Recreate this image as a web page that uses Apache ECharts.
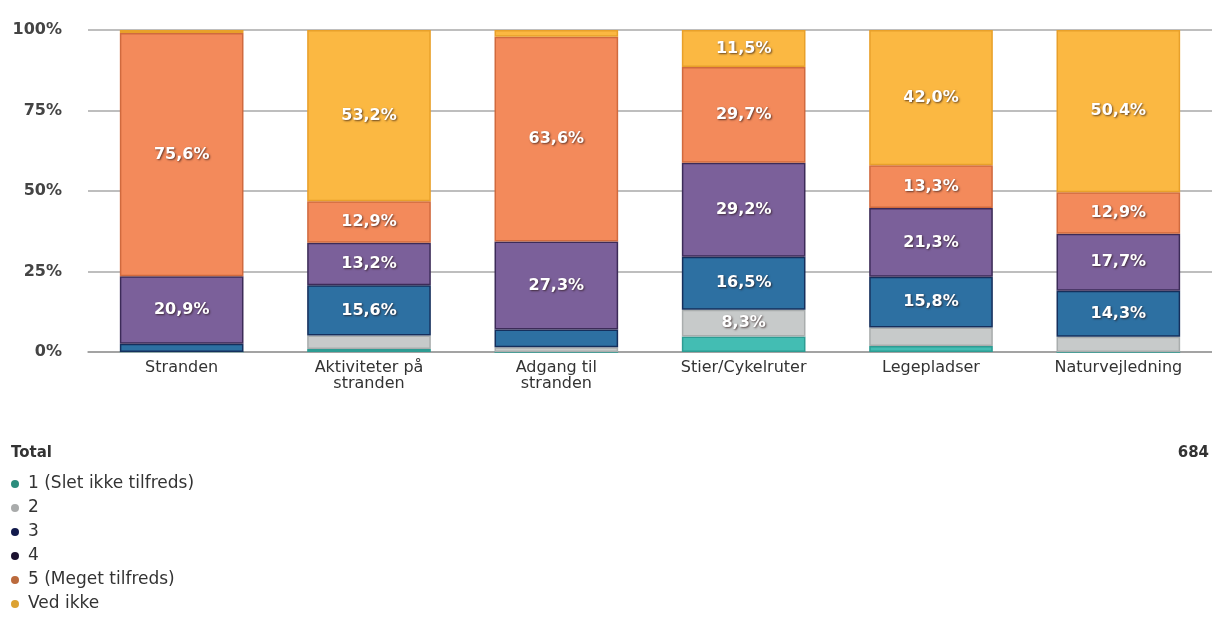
<!DOCTYPE html>
<html>
<head>
<meta charset="utf-8">
<script src="https://cdn.jsdelivr.net/npm/echarts@6/dist/echarts.min.js"></script>
<style>
  html, body { margin: 0; padding: 0; background: #fff; }
  #chart { width: 1212px; height: 621px; }
</style>
</head>
<body>
<div id="chart"></div>
<script>
  // categories (line breaks as in the picture)
  const categories = ['Stranden', 'Aktiviteter på\nstranden', 'Adgang til\nstranden', 'Stier/Cykelruter', 'Legepladser', 'Naturvejledning'];
  const seriesNames = ['1 (Slet ikke tilfreds)', '2', '3', '4', '5 (Meget tilfreds)', 'Ved ikke'];
  // percentages per answer, one value per category
  const vals1 = [0, 0.9, 0, 4.8, 1.9, 0];
  const vals2 = [0, 4.2, 1.5, 8.3, 5.7, 4.7];
  const vals3 = [2.6, 15.6, 5.5, 16.5, 15.8, 14.3];
  const vals4 = [20.9, 13.2, 27.3, 29.2, 21.3, 17.7];
  const vals5 = [75.6, 12.9, 63.6, 29.7, 13.3, 12.9];
  const valsVedIkke = [0.9, 53.2, 2.1, 11.5, 42.0, 50.4];
  const yTicks = [0, 25, 50, 75, 100];
  const total = 684;

  const allVals = [vals1, vals2, vals3, vals4, vals5, valsVedIkke];
  const barColors = ['#43bdb3', '#c7caca', '#2d70a2', '#7b609a', '#f38a5b', '#fbb842'];
  const edgeColors = ['#2e9c93', '#a9adad', '#152f5c', '#3c2b58', '#d06a3e', '#e8a02a'];
  const legendColors = ['#2b8c7c', '#a9abab', '#121a4c', '#1c1230', '#bb6a3c', '#dca232'];

  const font = 'DejaVu Sans';

  let myChart = echarts.init(document.getElementById('chart'));
  myChart.setOption({
    animation: false,
    title: [
      { text: 'Total', left: 6, top: 441, textStyle: { fontFamily: font, fontSize: 15, fontWeight: 'bold', color: '#333' } },
      { text: String(total), right: -2, top: 441, textStyle: { fontFamily: font, fontSize: 15, fontWeight: 'bold', color: '#333' } }
    ],
    legend: {
      orient: 'vertical',
      left: 11,
      top: 475,
      padding: 0,
      icon: 'circle',
      itemWidth: 8,
      itemHeight: 8,
      itemGap: 6,
      selectedMode: false,
      textStyle: { fontFamily: font, fontSize: 17, color: '#333', lineHeight: 18, padding: [0, 0, 0, 4] },
      data: seriesNames.map((n, i) => ({ name: n, itemStyle: { color: legendColors[i], borderWidth: 0 } }))
    },
    grid: {
      left: 88,
      right: -9,
      top: 30,
      bottom: 269
    },
    xAxis: {
      type: 'category',
      data: categories,
      axisTick: { show: false },
      axisLine: { lineStyle: { color: '#9a9a9a', width: 1.5 } },
      axisLabel: { fontFamily: font, fontSize: 16, color: '#333', lineHeight: 16, margin: 8 }
    },
    yAxis: {
      type: 'value',
      min: yTicks[0],
      max: yTicks[yTicks.length - 1],
      interval: 25,
      axisLine: { show: false },
      axisTick: { show: false },
      splitLine: { lineStyle: { color: '#a8a8a8', width: 1.5 } },
      axisLabel: { fontFamily: font, fontSize: 16, fontWeight: 'bold', color: '#444', margin: 26, formatter: '{value}%' }
    },
    series: seriesNames.map((name, i) => ({
      name: name,
      type: 'bar',
      stack: 'total',
      barWidth: '66%',
      data: allVals[i],
      itemStyle: { color: barColors[i], borderColor: edgeColors[i], borderWidth: 1.5 },
      label: {
        show: true,
        position: 'inside',
        fontFamily: font,
        fontSize: 16,
        fontWeight: 'bold',
        color: '#fff',
        textBorderWidth: 0,
        textShadowColor: 'rgba(40,20,20,0.7)',
        textShadowBlur: 2,
        textShadowOffsetX: 1,
        textShadowOffsetY: 1,
        formatter: p => p.value >= 8 ? p.value.toFixed(1).replace('.', ',') + '%' : ''
      }
    }))
  });
</script>
</body>
</html>
